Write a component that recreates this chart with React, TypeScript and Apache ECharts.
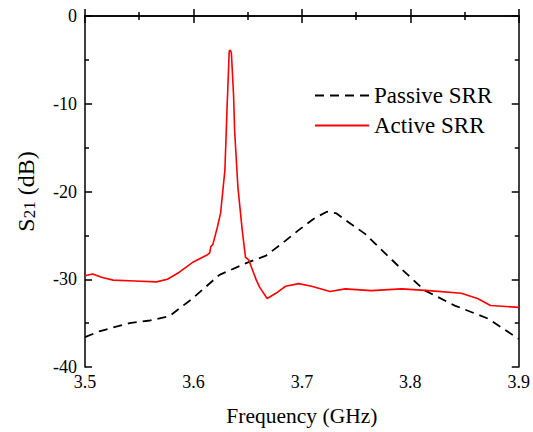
import React, { useEffect, useRef } from "react";
import * as echarts from "echarts";

const xTicks = [3.5, 3.6, 3.7, 3.8, 3.9];
const yTicks = [-40, -30, -20, -10, 0];

const passiveFreq = [3.5, 3.514, 3.541, 3.56, 3.578, 3.599, 3.624, 3.648, 3.667, 3.685, 3.697, 3.711, 3.723, 3.732, 3.743, 3.758, 3.789, 3.813, 3.841, 3.872, 3.9];
const passiveS21 = [-36.6, -35.9, -35.0, -34.7, -34.2, -32.2, -29.5, -28.2, -27.3, -25.6, -24.4, -23.1, -22.3, -22.5, -23.5, -24.8, -28.5, -31.25, -33.0, -34.5, -36.8];

const activeFreq = [3.5, 3.507, 3.516, 3.526, 3.546, 3.566, 3.576, 3.587, 3.599, 3.613, 3.615, 3.616, 3.618, 3.622, 3.625, 3.629, 3.631, 3.633, 3.634, 3.635, 3.637, 3.638, 3.641, 3.645, 3.648, 3.651, 3.658, 3.661, 3.668, 3.676, 3.685, 3.697, 3.709, 3.726, 3.74, 3.764, 3.792, 3.817, 3.847, 3.862, 3.874, 3.9];
const activeS21 = [-29.6, -29.4, -29.8, -30.1, -30.2, -30.3, -30.0, -29.2, -28.1, -27.2, -27.0, -26.3, -26.0, -24.1, -22.5, -17.6, -10.5, -4.0, -3.9, -4.2, -9.0, -13.1, -19.5, -24.4, -27.5, -27.8, -30.1, -30.9, -32.2, -31.6, -30.8, -30.5, -30.8, -31.4, -31.1, -31.3, -31.1, -31.3, -31.6, -32.2, -33.0, -33.2];

const seriesNames = ["Passive SRR", "Active SRR"];

const FONT = "'Liberation Serif', 'Times New Roman', serif";

export default function App() {
  const ref = useRef<HTMLDivElement>(null);
  useEffect(() => {
    document.body.style.margin = "0";
    const chart = echarts.init(ref.current!, null, { renderer: "svg" });
    const tickCommon = {
      axisLine: { show: true, lineStyle: { color: "#000", width: 1.5 } },
      axisTick: { show: true, inside: true, length: 7, lineStyle: { color: "#000", width: 1.5 } },
      minorTick: { show: true, splitNumber: 2, length: 4, lineStyle: { color: "#000", width: 1.5 } },
      splitLine: { show: false },
    };
    chart.setOption({
      animation: false,
      backgroundColor: "#fff",
      grid: { left: 85, top: 16, right: 11.5, bottom: 65, containLabel: false },
      legend: {
        orient: "vertical",
        left: 309,
        top: 79,
        itemWidth: 54,
        itemHeight: 20,
        itemGap: 7,
        itemStyle: { opacity: 0 },
        textStyle: { fontFamily: FONT, fontSize: 23, color: "#000" },
        data: seriesNames,
      },
      xAxis: [
        {
          type: "value",
          min: 3.5,
          max: 3.9,
          interval: 0.1,
          position: "bottom",
          name: "Frequency (GHz)",
          nameLocation: "middle",
          nameGap: 38,
          nameTextStyle: { fontFamily: FONT, fontSize: 21.5, color: "#000" },
          axisLabel: {
            fontFamily: FONT,
            fontSize: 18,
            color: "#000",
            margin: 6,
            formatter: (v: number) => (xTicks.some((t) => Math.abs(t - v) < 1e-6) ? v.toFixed(1) : ""),
          },
          ...tickCommon,
        },
        {
          type: "value",
          min: 3.5,
          max: 3.9,
          interval: 0.1,
          position: "top",
          axisLabel: { show: false },
          ...tickCommon,
        },
      ],
      yAxis: [
        {
          type: "value",
          min: -40,
          max: 0,
          interval: 10,
          position: "left",
          name: "{a|S}{b|21}{a| (dB)}",
          nameLocation: "middle",
          nameGap: 47,
          nameRotate: 90,
          nameTextStyle: {
            rich: {
              a: { fontFamily: FONT, fontSize: 24, color: "#000", verticalAlign: "bottom", lineHeight: 26 },
              b: { fontFamily: FONT, fontSize: 17, color: "#000", verticalAlign: "bottom", lineHeight: 22 },
            },
          },
          axisLabel: {
            fontFamily: FONT,
            fontSize: 18,
            color: "#000",
            margin: 8,
            formatter: (v: number) => (yTicks.includes(v) ? String(v) : ""),
          },
          ...tickCommon,
        },
        {
          type: "value",
          min: -40,
          max: 0,
          interval: 10,
          position: "right",
          axisLabel: { show: false },
          ...tickCommon,
        },
      ],
      series: [
        {
          name: seriesNames[0],
          type: "line",
          symbol: "none",
          data: passiveFreq.map((f, i) => [f, passiveS21[i]]),
          lineStyle: { color: "#000", width: 1.8, type: [9, 6] },
          itemStyle: { color: "#000" },
        },
        {
          name: seriesNames[1],
          type: "line",
          symbol: "none",
          data: activeFreq.map((f, i) => [f, activeS21[i]]),
          lineStyle: { color: "#ff0000", width: 1.6 },
          itemStyle: { color: "#ff0000" },
        },
      ],
    });
    return () => chart.dispose();
  }, []);
  return <div ref={ref} style={{ width: 533, height: 432 }} />;
}
